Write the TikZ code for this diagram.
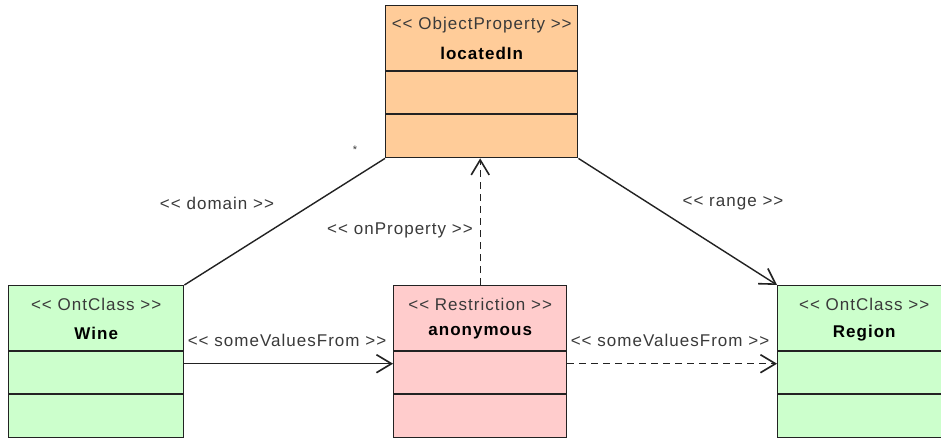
\documentclass[tikz,border=0pt]{standalone}
\usepackage{fontspec}
\setmainfont{Liberation Sans}[LetterSpace=6, Ligatures=TeXOff]
\usetikzlibrary{arrows.meta}

\definecolor{propfill}{HTML}{FFCC99}
\definecolor{classfill}{HTML}{CCFFCC}
\definecolor{restrfill}{HTML}{FFCCCC}
\definecolor{stereogray}{HTML}{3A3A3A}
\definecolor{edgegray}{HTML}{222222}

\tikzset{
  classbox/.style={draw=edgegray, line width=1.4pt, inner sep=0pt, anchor=north west, minimum height=152pt},
  divider/.style={draw=edgegray, line width=1.4pt},
  stereo/.style={font=\fontsize{17}{20}\selectfont, text=stereogray, inner sep=0pt},
  title/.style={font=\fontsize{17}{20}\selectfont\bfseries, text=black, inner sep=0pt},
  edgelabel/.style={font=\fontsize{17}{20}\selectfont, text=stereogray, inner sep=0pt},
  multlabel/.style={font=\fontsize{11}{13}\selectfont, text=stereogray, inner sep=0pt},
  conn/.style={draw=edgegray, line width=1.4pt},
  openarrow/.style={-{Straight Barb[length=15pt,width=18pt,line width=1.6pt]}},
  dashconn/.style={conn, dash pattern=on 7pt off 5pt},
}

\begin{document}
\begin{tikzpicture}[x=1pt,y=-1pt]
\useasboundingbox (0,0) rectangle (941,438);
\clip (0,0) rectangle (941,438);
\fill[white] (0,0) rectangle (941,438);

% class boxes
\node[classbox, fill=propfill, minimum width=192pt] (prop) at (385,5) {};
\node[classbox, fill=classfill, minimum width=175pt] (wine) at (8,285) {};
\node[classbox, fill=restrfill, minimum width=173pt] (anon) at (393,285) {};
\node[classbox, fill=classfill, minimum width=173pt] (region) at (777,285) {};

% compartments
\foreach \b in {prop,wine,anon,region}{
  \draw[divider] ([yshift=-66pt]\b.north west) -- ([yshift=-66pt]\b.north east);
  \draw[divider] ([yshift=-109pt]\b.north west) -- ([yshift=-109pt]\b.north east);
}

% stereotypes and names
\node[stereo] (prop-st) at ([yshift=-20pt]prop.north) {<< ObjectProperty >>};
\node[title]  (prop-nm) at ([yshift=-48pt]prop.north) {locatedIn};
\node[stereo] (wine-st) at ([yshift=-19pt]wine.north) {<< OntClass >>};
\node[title]  (wine-nm) at ([yshift=-48pt]wine.north) {Wine};
\node[stereo] (anon-st) at ([yshift=-19pt]anon.north) {<< Restriction >>};
\node[title]  (anon-nm) at ([yshift=-48pt]anon.north) {anonymous};
\node[stereo] (region-st) at ([yshift=-19pt]region.north) {<< OntClass >>};
\node[title]  (region-nm) at ([yshift=-48pt]region.north) {Region};

% connectors
\draw[conn] (wine.north east) -- (prop.south west);
\draw[conn, openarrow] (prop.south east) -- (region.north west);
\draw[dashconn, openarrow] (anon.north) -- (anon.north |- prop.south);
\draw[conn, openarrow] ([yshift=-2pt]wine.east) -- ([yshift=-2pt]wine.east -| anon.west);
\draw[dashconn, openarrow] ([yshift=-2pt]anon.east) -- ([yshift=-2pt]anon.east -| region.west);

% connector labels
\node[multlabel] (l-star) at (355,150) {*};
\node[edgelabel] (l-domain) at (217,203) {<< domain >>};
\node[edgelabel] (l-range) at (733,203) {<< range >>};
\node[edgelabel] (l-onprop) at (400,230) {<< onProperty >>};
\node[edgelabel] (l-svf1) at (287,340) {<< someValuesFrom >>};
\node[edgelabel] (l-svf2) at (670,340) {<< someValuesFrom >>};
\end{tikzpicture}
\end{document}
